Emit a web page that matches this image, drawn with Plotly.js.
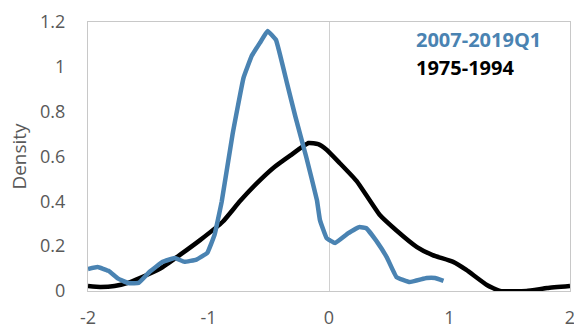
<!DOCTYPE html>
<html>
<head>
<meta charset="utf-8">
<script src="https://cdn.plot.ly/plotly-3.0.1.min.js"></script>
<style>html,body{margin:0;padding:0;background:#fff;}#chart{width:574px;height:332px;}</style>
</head>
<body>
<div id="chart"></div>
<script>
const recentX = [-2.00,-1.92,-1.83,-1.75,-1.67,-1.58,-1.49,-1.38,-1.28,-1.20,-1.10,-1.01,-0.95,-0.89,-0.80,-0.71,-0.64,-0.57,-0.51,-0.44,-0.35,-0.28,-0.19,-0.10,-0.075,-0.02,0.05,0.16,0.25,0.31,0.40,0.48,0.56,0.67,0.81,0.88,0.95];
const recentY = [0.098,0.107,0.090,0.055,0.036,0.036,0.085,0.130,0.147,0.130,0.140,0.170,0.250,0.400,0.700,0.950,1.050,1.110,1.160,1.120,0.930,0.780,0.600,0.405,0.316,0.236,0.214,0.258,0.285,0.280,0.218,0.150,0.062,0.040,0.058,0.058,0.045];
const earlyX = [-2.00,-1.90,-1.78,-1.67,-1.57,-1.40,-1.24,-1.07,-0.88,-0.74,-0.60,-0.46,-0.32,-0.17,-0.09,-0.02,0.09,0.23,0.42,0.56,0.73,0.86,1.03,1.14,1.31,1.42,1.64,1.81,2.00];
const earlyY = [0.022,0.018,0.022,0.036,0.058,0.100,0.160,0.227,0.310,0.400,0.480,0.550,0.605,0.660,0.655,0.630,0.570,0.490,0.340,0.270,0.196,0.160,0.130,0.094,0.027,0.000,0.000,0.013,0.022];
const seriesNames = ["2007-2019Q1","1975-1994"];
const xTicks = [-2,-1,0,1,2];
const yTicks = [0,0.2,0.4,0.6,0.8,1,1.2];
const yTickText = ["0","0.2","0.4","0.6","0.8","1","1.2"];

const blue = "#4a83b2";
const font = "'Open Sans', 'Noto Sans', sans-serif";
const traces = [
  {x: earlyX, y: earlyY, mode: "lines", name: seriesNames[1], line: {color: "#000000", width: 4.5, shape: "spline", smoothing: 0.4}, cliponaxis: false},
  {x: recentX, y: recentY, mode: "lines", name: seriesNames[0], line: {color: blue, width: 4.5, shape: "spline", smoothing: 0.25}}
];
const layout = {
  width: 574, height: 332,
  margin: {l: 88, r: 4, t: 22, b: 41},
  paper_bgcolor: "#fff", plot_bgcolor: "#fff",
  showlegend: false,
  font: {family: font, color: "#595959", size: 18},
  xaxis: {range: [-2, 2], tickvals: xTicks, ticktext: xTicks.map(String), showgrid: false,
          zeroline: true, zerolinecolor: "#d0d0d0", zerolinewidth: 1,
          showline: true, linecolor: "#c8c8c8", linewidth: 1, mirror: true, ticklabeloverflow: "allow",
          ticks: "outside", ticklen: 10, tickcolor: "rgba(0,0,0,0)", tickfont: {size: 18, color: "#595959"}},
  yaxis: {range: [0, 1.2], tickvals: yTicks, ticktext: yTickText, showgrid: false, zeroline: false,
          showline: true, linecolor: "#c8c8c8", linewidth: 1, mirror: true, ticklabeloverflow: "allow",
          ticks: "outside", ticklen: 18, tickcolor: "rgba(0,0,0,0)", tickfont: {size: 18, color: "#595959"},
          title: {text: "Density", font: {size: 19, color: "#595959"}, standoff: 8}},
  annotations: [
    {xref: "paper", yref: "paper", x: 0.676, y: 0.935, xanchor: "left", yanchor: "middle", showarrow: false,
     text: "<b>" + seriesNames[0] + "</b>", font: {size: 20, color: blue, family: font}},
    {xref: "paper", yref: "paper", x: 0.676, y: 0.83, xanchor: "left", yanchor: "middle", showarrow: false,
     text: "<b>" + seriesNames[1] + "</b>", font: {size: 20, color: "#000000", family: font}}
  ]
};
Plotly.newPlot("chart", traces, layout, {displayModeBar: false, staticPlot: true});
</script>
</body>
</html>
